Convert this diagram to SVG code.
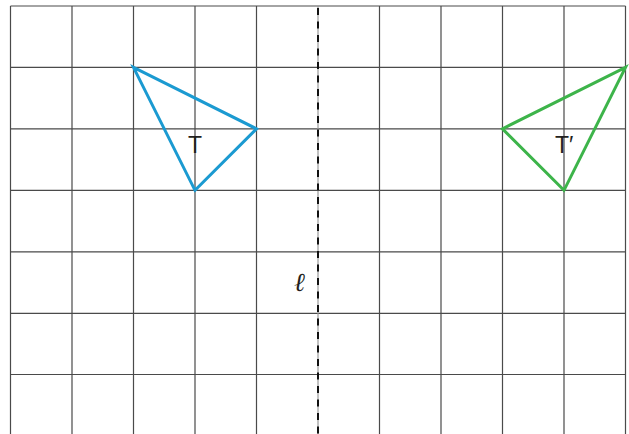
<svg xmlns="http://www.w3.org/2000/svg" width="629" height="434" viewBox="0 0 629 434">
<style>
.g{stroke:#4a4a4a;stroke-width:1.2;fill:none}
.tri{fill:none;stroke-width:3;stroke-linejoin:miter}
.lbl{font-family:"Liberation Sans",Arial,sans-serif;font-size:23px;fill:#231f20}
</style>
<rect width="629" height="434" fill="#fff"/>
<g id="grid">
<path class="g" d="M10.5 6V434M72 6V434M133.5 6V434M195 6V434M256.5 6V434M379.5 6V434M441 6V434M502.5 6V434M564 6V434M625.5 6V434"/>
<path class="g" d="M10.5 6H625.5M10.5 67.3H625.5M10.5 128.8H625.5M10.5 190.3H625.5M10.5 251.8H625.5M10.5 313.3H625.5M10.5 374.5H625.5"/>
<line x1="318" y1="6" x2="318" y2="434" stroke="#999" stroke-width="1.2"/>
</g>
<g id="line-l">
<line x1="318" y1="8" x2="318" y2="434" stroke="#111" stroke-width="2" stroke-dasharray="7 6.5"/>
<text x="294" y="291" font-family="'Liberation Serif','DejaVu Serif',serif" font-style="italic" font-size="26" fill="#231f20">ℓ</text>
</g>
<g id="T">
<polygon class="tri" stroke="#1b9ad1" points="133.5,67.3 256.5,128.8 195,190.3"/>
<text class="lbl" x="195" y="153" text-anchor="middle">T</text>
</g>
<g id="T-prime">
<polygon class="tri" stroke="#3db44a" points="625.5,67.3 502.5,128.8 564,190.3"/>
<text class="lbl" x="555" y="153">T′</text>
</g>
</svg>
